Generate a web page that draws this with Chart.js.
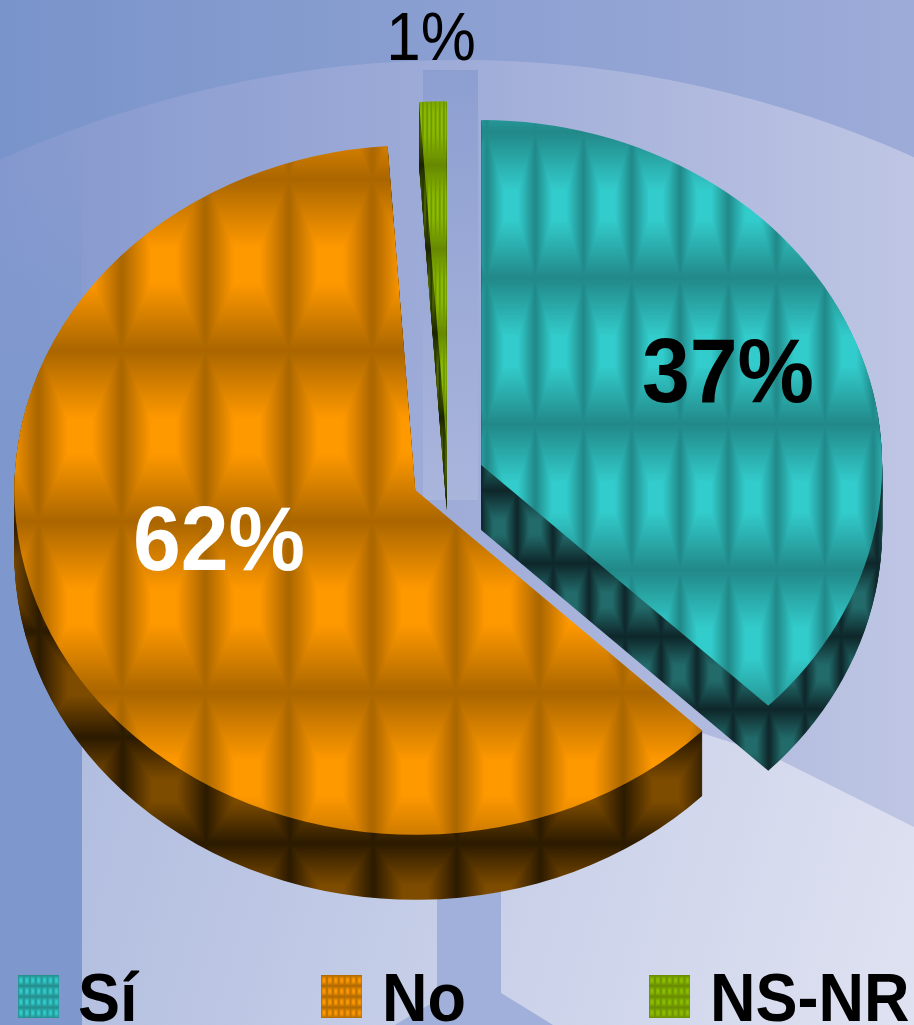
<!DOCTYPE html>
<html>
<head>
<meta charset="utf-8">
<title>Sí No NS-NR</title>
<script src="https://cdn.jsdelivr.net/npm/chart.js@4"></script>
<style>
  html, body { margin: 0; padding: 0; overflow: hidden; background: #9fb0da; }
  canvas { display: block; filter: blur(0.5px); }
</style>
</head>
<body>
<canvas id="pie" width="914" height="1025"></canvas>
<script>
const categories = ["Sí", "No", "NS-NR"];
const values = [37.3, 61.6, 1.1];
const percentLabels = ["37%", "62%", "1%"];

const SQUASH = 0.86;   // pie is tilted, so the circle is flattened
const DEPTH = 65;
const EXPLODE = 36;
const CX = 448, CY = 477;

// w/h = tile size on screen, bx/by = where a bright cell centre sits on screen
const topLook = [
  { w: 48.3, h: 146, bx: 511, by: 205, bright: [51, 204, 204], dark: [34, 136, 136] },
  { w: 83.5, h: 171, bx: 80, by: 607, bright: [255, 153, 0], dark: [170, 102, 0] },
  { w: 4.2, h: 84, bx: 425, by: 207, bright: [140, 190, 0], dark: [102, 136, 0] }
];
const wallLook = [
  { w: 36, h: 73, bx: 643, by: 600, bright: [35, 107, 107], dark: [14, 38, 41] },
  { w: 83.5, h: 106, bx: 248, by: 790, bright: [126, 76, 0], dark: [43, 26, 0] },
  { w: 4.2, h: 84, bx: 425, by: 207, bright: [79, 102, 0], dark: [26, 36, 0] }
];
const legendLook = [
  { x: 18, bright: [51, 204, 204], dark: [34, 136, 136] },
  { x: 321, bright: [255, 153, 0], dark: [170, 102, 0] },
  { x: 649, bright: [140, 190, 0], dark: [102, 136, 0] }
];

function makeTile(w, h, bright, dark) {
  const tw = Math.ceil(w), th = Math.ceil(h);
  const c = document.createElement("canvas");
  c.width = tw; c.height = th;
  const g = c.getContext("2d");
  const img = g.createImageData(tw, th);
  for (let y = 0; y < th; y++) {
    for (let x = 0; x < tw; x++) {
      const u = 1 - Math.abs((x + 0.5) / tw * 2 - 1);
      const v = 1 - Math.abs((y + 0.5) / th * 2 - 1);
      // lens shaped dark lines between the columns, pointed at the dark rows
      const b = Math.min(u / 0.7, v / 0.8, 1);
      const i = (y * tw + x) * 4;
      for (let n = 0; n < 3; n++) img.data[i + n] = dark[n] + (bright[n] - dark[n]) * b;
      img.data[i + 3] = 255;
    }
  }
  g.putImageData(img, 0, 0);
  return { canvas: c, tw, th };
}

const canvas = document.querySelector("#pie");
const ctx = canvas.getContext("2d");

function makePattern(look) {
  const tile = makeTile(look.w, look.h, look.bright, look.dark);
  return Object.assign({}, look, { tile, pattern: ctx.createPattern(tile.canvas, "repeat") });
}
const topPatterns = topLook.map(makePattern);
const wallPatterns = wallLook.map(makePattern);

// puts the pattern so it stays fixed on screen, whatever the slice is moved by
function placePattern(p, el, ex, ey) {
  const hLocal = p.h / SQUASH;
  const tx = p.bx - CX - ex + el.x - p.w / 2;
  const ty = el.y + (p.by - CY - ey) / SQUASH - hLocal / 2;
  p.pattern.setTransform(new DOMMatrix().translate(tx, ty).scale(p.w / p.tile.tw, hLocal / p.tile.th));
}

function drawSlice(c, el, fill, ex, ey) {
  c.save();
  c.translate(CX + ex, CY + ey);
  c.scale(1, SQUASH);
  c.translate(-el.x, -el.y);
  const copy = Object.create(el);
  copy.options = {
    backgroundColor: fill, borderColor: fill, borderWidth: 0, borderAlign: "center",
    borderRadius: 0, offset: 0, spacing: 0, circular: true
  };
  copy.draw(c);
  c.restore();
}

const pie3d = {
  id: "pie3d",
  beforeDatasetDraw(chart, args) {
    const c = chart.ctx;
    const arcs = chart.getDatasetMeta(args.index).data;
    const shift = arcs.map(el => {
      const mid = (el.startAngle + el.endAngle) / 2;
      return { ex: EXPLODE * Math.cos(mid), ey: EXPLODE * Math.sin(mid) * SQUASH };
    });
    [2, 0, 1].forEach(i => {
      for (let k = DEPTH; k > 0; k--) {
        const ey = shift[i].ey + k;
        placePattern(wallPatterns[i], arcs[i], shift[i].ex, ey);
        drawSlice(c, arcs[i], wallPatterns[i].pattern, shift[i].ex, ey);
      }
    });
    [2, 0, 1].forEach(i => {
      placePattern(topPatterns[i], arcs[i], shift[i].ex, shift[i].ey);
      drawSlice(c, arcs[i], topPatterns[i].pattern, shift[i].ex, shift[i].ey);
    });
    return false;
  }
};

const backdrop = {
  id: "backdrop",
  beforeDraw(chart) {
    const c = chart.ctx;
    c.save();
    let g = c.createLinearGradient(0, 0, 914, 0);
    g.addColorStop(0, "#7994ca");
    g.addColorStop(1, "#9dabd8");
    c.fillStyle = g;
    c.fillRect(0, 0, 914, 1025);

    // big pale disc
    g = c.createLinearGradient(0, 0, 914, 0);
    g.addColorStop(0, "#8498ce");
    g.addColorStop(0.5, "#9facd8");
    g.addColorStop(1, "#bfc6e4");
    c.fillStyle = g;
    c.beginPath();
    c.arc(460, 1168, 1108, 0, Math.PI * 2);
    c.fill();

    // left band
    g = c.createLinearGradient(0, 150, 0, 400);
    g.addColorStop(0, "rgba(126,152,206,0)");
    g.addColorStop(1, "rgba(126,152,206,1)");
    c.fillStyle = g;
    c.fillRect(0, 150, 82, 875);

    // top band
    g = c.createLinearGradient(0, 70, 0, 500);
    g.addColorStop(0, "#8d9fd1");
    g.addColorStop(1, "#aab5dc");
    c.fillStyle = g;
    c.fillRect(423, 70, 55, 430);

    // light floor
    g = c.createLinearGradient(82, 780, 914, 1025);
    g.addColorStop(0, "#b2bee0");
    g.addColorStop(1, "#dfe2f1");
    c.fillStyle = g;
    c.beginPath();
    c.moveTo(82, 700);
    c.lineTo(600, 700);
    c.lineTo(770, 755);
    c.lineTo(914, 827);
    c.lineTo(914, 1025);
    c.lineTo(82, 1025);
    c.closePath();
    c.fill();

    // bottom band
    c.fillStyle = "#a0b0da";
    c.beginPath();
    c.moveTo(437, 880);
    c.lineTo(501, 880);
    c.lineTo(501, 993);
    c.lineTo(553, 1025);
    c.lineTo(395, 1025);
    c.lineTo(437, 1000);
    c.closePath();
    c.fill();
    c.restore();
  }
};

function stretchedText(c, text, x, y, font, color, align, sy) {
  c.save();
  c.translate(x, y);
  c.scale(1, sy);
  c.font = font;
  c.fillStyle = color;
  c.textAlign = align;
  c.textBaseline = "alphabetic";
  c.fillText(text, 0, 0);
  c.restore();
}

const textLayer = {
  id: "textLayer",
  afterDraw(chart) {
    const c = chart.ctx;
    stretchedText(c, percentLabels[0], 728, 402, "bold 86px 'Liberation Sans'", "#000", "center", 1.06);
    stretchedText(c, percentLabels[1], 219, 570, "bold 86px 'Liberation Sans'", "#fff", "center", 1.06);
    stretchedText(c, percentLabels[2], 431, 60, "62px 'Liberation Sans'", "#000", "center", 1.1);

    const textX = [78, 382, 710];
    categories.forEach((name, i) => {
      const look = legendLook[i];
      const tile = makeTile(5.9, 10.8, look.bright, look.dark);
      const pat = c.createPattern(tile.canvas, "repeat");
      pat.setTransform(new DOMMatrix().translate(look.x, 975).scale(5.9 / tile.tw, 10.8 / tile.th));
      c.fillStyle = pat;
      c.fillRect(look.x, 975, 41, 43);
      stretchedText(c, name, textX[i], 1021, "bold 63px 'Liberation Sans'", "#000", "left", 1.08);
    });
  }
};

new Chart(canvas, {
  type: "pie",
  data: {
    labels: categories,
    datasets: [{ data: values, borderWidth: 0 }]
  },
  options: {
    responsive: false,
    animation: false,
    radius: 401,
    plugins: { legend: { display: false }, tooltip: { enabled: false } }
  },
  plugins: [backdrop, pie3d, textLayer]
});
</script>
</body>
</html>
